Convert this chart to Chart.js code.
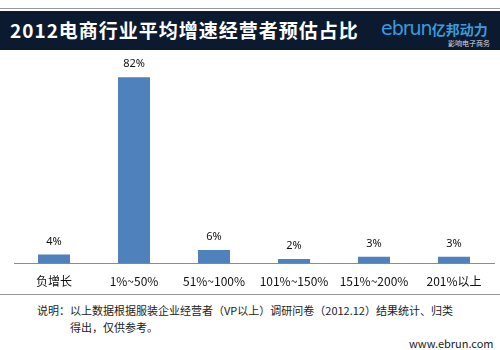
<!DOCTYPE html>
<html>
<head>
<meta charset="utf-8">
<script src="https://cdn.jsdelivr.net/npm/chart.js@4/dist/chart.umd.min.js"></script>
<style>
  html, body { margin: 0; padding: 0; background: #fff; }
  body { width: 500px; height: 350px; position: relative; overflow: hidden;
         font-family: "Noto Sans CJK SC", "Noto Sans", sans-serif; }
  .rule { position: absolute; left: 0; width: 500px; height: 1px; background: #9a9a9a; }
  .banner { position: absolute; left: 0; top: 11px; width: 500px; height: 39px; background: #0b1a2e; }
  .title { position: absolute; left: 10px; top: 7px; color: #fff; font-size: 19px; font-weight: bold;
           letter-spacing: 1px; line-height: 24px; white-space: nowrap; }
  .logo { position: absolute; left: 381px; top: 5px; color: #3b9bdc; white-space: nowrap; }
  .logo .en { font-family: "DejaVu Sans", sans-serif; font-size: 19px; letter-spacing: -1px; line-height: 24px; }
  .logo .cn { font-size: 14px; font-weight: bold; line-height: 24px; }
  .logo .sub { position: absolute; left: 67px; top: 23px; font-size: 7px; color: #d8dde4; line-height: 9px; }
  .chart { position: absolute; left: 0; top: 50px; width: 500px; height: 242px; }
  .note { position: absolute; font-size: 11px; color: #222; line-height: 14px; white-space: nowrap; }
</style>
</head>
<body>
<div class="rule" style="top:8px"></div>
<div class="banner">
  <div class="title">2012电商行业平均增速经营者预估占比</div>
  <div class="logo"><span class="en">ebrun</span><span class="cn">亿邦动力</span><div class="sub">影响电子商务</div></div>
</div>
<div class="chart"><canvas id="c" width="500" height="242"></canvas></div>
<div class="rule" style="top:294px"></div>
<div class="note" style="left:37px; top:303px">说明：以上数据根据服装企业经营者（VP以上）调研问卷（2012.12）结果统计、归类</div>
<div class="note" style="left:70px; top:320px">得出，仅供参考。</div>
<div class="note" style="left:409px; top:336px">www.ebrun.com</div>
<script>
const categories = ['负增长', '1%~50%', '51%~100%', '101%~150%', '151%~200%', '201%以上'];
const shares = [4, 82, 6, 2, 3, 3];

// writes the percentage above each bar
const valueLabels = {
  id: 'valueLabels',
  afterDatasetsDraw(chart) {
    const ctx = chart.ctx;
    const meta = chart.getDatasetMeta(0);
    ctx.save();
    ctx.font = '11px "Noto Sans", "DejaVu Sans", sans-serif';
    ctx.fillStyle = '#111';
    ctx.textAlign = 'center';
    ctx.textBaseline = 'middle';
    meta.data.forEach((bar, i) => {
      ctx.fillText(shares[i] + '%', bar.x, bar.y - 13);
    });
    ctx.restore();
  }
};

new Chart(document.getElementById('c'), {
  type: 'bar',
  data: {
    labels: categories,
    datasets: [{
      data: shares,
      backgroundColor: '#4f81bd',
      categoryPercentage: 1,
      barPercentage: 0.4
    }]
  },
  options: {
    responsive: false,
    animation: false,
    layout: { padding: { left: 14, right: 6, top: 9, bottom: 0 } },
    plugins: { legend: { display: false }, tooltip: { enabled: false } },
    scales: {
      x: {
        grid: { display: false },
        border: { color: '#8c8c8c', width: 1 },
        ticks: {
          color: '#111',
          padding: 3,
          maxRotation: 0,
          font: { family: '"Noto Sans CJK SC", "Noto Sans", sans-serif', size: 12 }
        }
      },
      y: { display: false, min: 0, max: 90 }
    }
  },
  plugins: [valueLabels]
});
</script>
</body>
</html>
